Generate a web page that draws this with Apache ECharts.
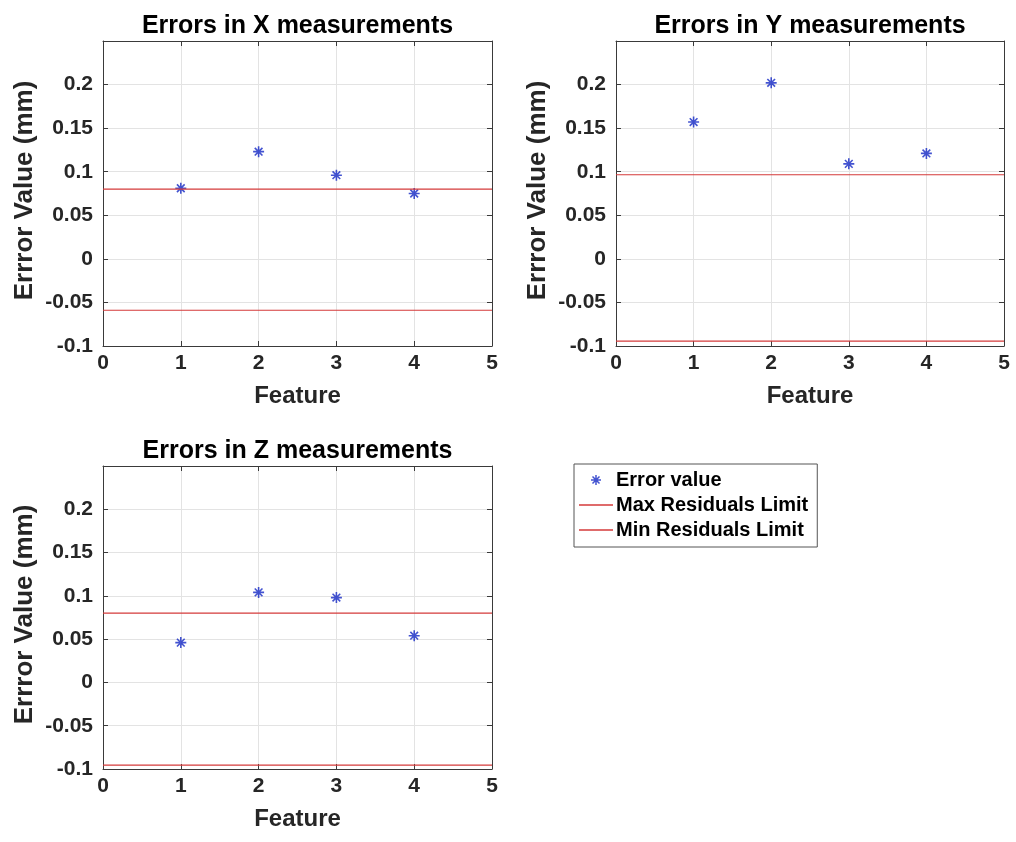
<!DOCTYPE html>
<html>
<head>
<meta charset="utf-8">
<script src="https://cdn.jsdelivr.net/npm/echarts@6/dist/echarts.min.js"></script>
<style>
  html, body { margin: 0; padding: 0; background: #fff; }
  #chart { width: 1016px; height: 842px; }
</style>
</head>
<body>
<div id="chart"></div>
<script>
// feature numbers on the x axis
var features = [1, 2, 3, 4];

// measured errors (mm)
var errX = [0.081, 0.123, 0.096, 0.075];
var errY = [0.157, 0.202, 0.109, 0.121];
var errZ = [0.046, 0.104, 0.098, 0.054];

// residual limits per plot (X, Y, Z)
var maxLimits = [0.08, 0.0965, 0.08];
var minLimits = [-0.059, -0.0945, -0.0955];

var titles = ['Errors in X measurements', 'Errors in Y measurements', 'Errors in Z measurements'];
var xRange = [0, 5];
var yTicks = { min: -0.1, max: 0.25, step: 0.05 };

var FONT = '"Liberation Sans", Arial, Helvetica, sans-serif';
var TXT = '#262626';
var AXIS = '#3a3a3a';
var GRIDC = '#e3e3e3';
var BLUE = '#1428c4';
var RED = '#d43a3a';
var STAR = 'path://M5,0 L5,10 M0,5 L10,5 M1.5,1.5 L8.5,8.5 M8.5,1.5 L1.5,8.5';
var DASH = 'path://M0,0 L34,0 L34,1.5 L0,1.5 Z';

var boxes = [
  { left: 103, top: 41, width: 389, height: 305 },
  { left: 616, top: 41, width: 388, height: 305 },
  { left: 103, top: 466, width: 389, height: 303 }
];
var allErrors = [errX, errY, errZ];

var chart = echarts.init(document.getElementById('chart'));

var grid = [], xAxis = [], yAxis = [], series = [], title = [];

boxes.forEach(function (b, i) {
  grid.push({ left: b.left, top: b.top, width: b.width, height: b.height });

  title.push({
    text: titles[i],
    left: b.left + b.width / 2 - 5,
    top: b.top - 32,
    textAlign: 'center',
    textStyle: { fontFamily: FONT, fontSize: 25, fontWeight: 'bold', color: '#000' }
  });

  // bottom x axis with labels
  xAxis.push({
    type: 'value', gridIndex: i, min: xRange[0], max: xRange[1], interval: 1,
    name: 'Feature', nameLocation: 'middle', nameGap: 38,
    nameTextStyle: { fontFamily: FONT, fontSize: 24, fontWeight: 'bold', color: TXT },
    axisLine: { show: true, onZero: false, lineStyle: { color: AXIS, width: 1 } },
    axisTick: { show: true, inside: true, length: 5, lineStyle: { color: AXIS } },
    axisLabel: { fontFamily: FONT, fontSize: 21, fontWeight: 'bold', color: TXT, margin: 7 },
    splitLine: { show: true, lineStyle: { color: GRIDC, width: 1 } }
  });
  // top mirror axis
  xAxis.push({
    type: 'value', gridIndex: i, position: 'top', min: xRange[0], max: xRange[1], interval: 1,
    axisLine: { show: true, onZero: false, lineStyle: { color: AXIS, width: 1 } },
    axisTick: { show: true, inside: true, length: 5, lineStyle: { color: AXIS } },
    axisLabel: { show: false },
    splitLine: { show: false }
  });

  yAxis.push({
    type: 'value', gridIndex: i, min: yTicks.min, max: yTicks.max, interval: yTicks.step,
    name: 'Errror Value (mm)', nameLocation: 'middle', nameGap: 65,
    nameTextStyle: { fontFamily: FONT, fontSize: 26, fontWeight: 'bold', color: TXT, padding: [0, 0, 0, 6] },
    axisLine: { show: true, onZero: false, lineStyle: { color: AXIS, width: 1 } },
    axisTick: { show: true, inside: true, length: 5, lineStyle: { color: AXIS } },
    axisLabel: {
      fontFamily: FONT, fontSize: 21, fontWeight: 'bold', color: TXT, margin: 10,
      formatter: function (v) {
        if (v > 0.2 + 1e-9) return '';
        return String(parseFloat(v.toFixed(2)));
      }
    },
    splitLine: { show: true, lineStyle: { color: GRIDC, width: 1 } }
  });
  yAxis.push({
    type: 'value', gridIndex: i, position: 'right', min: yTicks.min, max: yTicks.max, interval: yTicks.step,
    axisLine: { show: true, onZero: false, lineStyle: { color: AXIS, width: 1 } },
    axisTick: { show: true, inside: true, length: 5, lineStyle: { color: AXIS } },
    axisLabel: { show: false },
    splitLine: { show: false }
  });

  series.push({
    name: 'Error value', type: 'scatter', xAxisIndex: 2 * i, yAxisIndex: 2 * i,
    symbol: STAR, symbolSize: 11,
    itemStyle: { color: 'rgba(0,0,0,0)', borderColor: BLUE, borderWidth: 1.6 },
    emphasis: { disabled: true },
    data: features.map(function (f, k) { return [f, allErrors[i][k]]; }),
    z: 3
  });
  series.push({
    name: 'Max Residuals Limit', type: 'line', xAxisIndex: 2 * i, yAxisIndex: 2 * i,
    symbol: 'none', lineStyle: { color: RED, width: 1.2 }, itemStyle: { color: RED },
    data: xRange.map(function (x) { return [x, maxLimits[i]]; }),
    silent: true, z: 4
  });
  series.push({
    name: 'Min Residuals Limit', type: 'line', xAxisIndex: 2 * i, yAxisIndex: 2 * i,
    symbol: 'none', lineStyle: { color: RED, width: 1.2 }, itemStyle: { color: RED },
    data: xRange.map(function (x) { return [x, minLimits[i]]; }),
    silent: true, z: 4
  });
});

var option = {
  backgroundColor: '#fff',
  animation: false,
  title: title,
  grid: grid,
  xAxis: xAxis,
  yAxis: yAxis,
  legend: {
    orient: 'vertical',
    left: 574, top: 464,
    padding: [6, 9, 7, 5],
    itemGap: 5,
    itemWidth: 34,
    itemHeight: 10,
    borderColor: '#555',
    borderWidth: 1,
    backgroundColor: '#fff',
    selectedMode: false,
    textStyle: { fontFamily: FONT, fontSize: 20, fontWeight: 'bold', color: '#000', padding: [0, 0, 0, -2] },
    data: [
      { name: 'Error value', icon: STAR, itemStyle: { color: 'rgba(0,0,0,0)', borderColor: BLUE, borderWidth: 1.5 } },
      { name: 'Max Residuals Limit', icon: DASH, itemStyle: { color: RED, borderWidth: 0 } },
      { name: 'Min Residuals Limit', icon: DASH, itemStyle: { color: RED, borderWidth: 0 } }
    ]
  },
  series: series
};

chart.setOption(option);
</script>
</body>
</html>
